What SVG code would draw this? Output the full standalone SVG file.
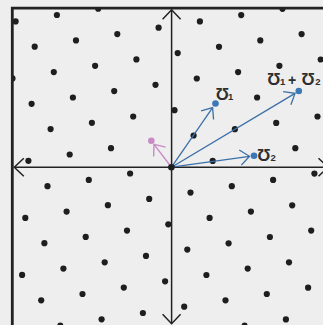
<svg xmlns="http://www.w3.org/2000/svg" width="323" height="325" viewBox="0 0 323 325">
<style>
.d{fill:#1e1e1e}
.ax{fill:none;stroke:#222;stroke-width:1.5}
.bl{fill:none;stroke:#3a6fa8;stroke-width:1.3}
.pk{fill:none;stroke:#c98bc5;stroke-width:1.4}
.lb{font-family:"Liberation Sans","DejaVu Sans",Arial,sans-serif;font-weight:bold;fill:#2e2e2e}
.big{font-size:17px}
.sub{font-size:9.5px}
</style>
<defs>
<clipPath id="inner"><rect x="12" y="8" width="320" height="330"/></clipPath>
<marker id="axh" markerUnits="userSpaceOnUse" orient="auto-start-reverse" overflow="visible" markerWidth="1" markerHeight="1">
<path d="M-9.5,-9 L0,0 L-9.5,9" fill="none" stroke="#222" stroke-width="1.5"/>
</marker>
<marker id="blh" markerUnits="userSpaceOnUse" orient="auto" overflow="visible" markerWidth="1" markerHeight="1">
<path d="M-9.3,-7.6 L0,0 L-9.3,7.6" fill="none" stroke="#3a6fa8" stroke-width="1.3"/>
</marker>
<marker id="pkh" markerUnits="userSpaceOnUse" orient="auto" overflow="visible" markerWidth="1" markerHeight="1">
<path d="M-9.3,-7.6 L0,0 L-9.3,7.6" fill="none" stroke="#c98bc5" stroke-width="1.4"/>
</marker>
</defs>
<rect x="0" y="0" width="323" height="325" fill="#eeeeee"/>
<g id="lattice" clip-path="url(#inner)">
<circle class="d" cx="15.6" cy="21.4" r="3.1"/><circle class="d" cx="56.9" cy="15.0" r="3.1"/><circle class="d" cx="98.2" cy="8.7" r="3.1"/>
<circle class="d" cx="34.7" cy="46.7" r="3.1"/><circle class="d" cx="76.0" cy="40.4" r="3.1"/><circle class="d" cx="117.3" cy="34.1" r="3.1"/><circle class="d" cx="158.6" cy="27.7" r="3.1"/><circle class="d" cx="199.9" cy="21.4" r="3.1"/><circle class="d" cx="241.2" cy="15.1" r="3.1"/><circle class="d" cx="282.5" cy="8.8" r="3.1"/>
<circle class="d" cx="12.5" cy="78.4" r="3.1"/><circle class="d" cx="53.8" cy="72.1" r="3.1"/><circle class="d" cx="95.1" cy="65.8" r="3.1"/><circle class="d" cx="136.4" cy="59.4" r="3.1"/><circle class="d" cx="177.7" cy="53.1" r="3.1"/><circle class="d" cx="219.0" cy="46.8" r="3.1"/><circle class="d" cx="260.3" cy="40.4" r="3.1"/><circle class="d" cx="301.6" cy="34.1" r="3.1"/>
<circle class="d" cx="31.6" cy="103.8" r="3.1"/><circle class="d" cx="72.9" cy="97.5" r="3.1"/><circle class="d" cx="114.2" cy="91.1" r="3.1"/><circle class="d" cx="155.5" cy="84.8" r="3.1"/><circle class="d" cx="196.8" cy="78.5" r="3.1"/><circle class="d" cx="238.1" cy="72.1" r="3.1"/><circle class="d" cx="279.4" cy="65.8" r="3.1"/><circle class="d" cx="320.7" cy="59.5" r="3.1"/>
<circle class="d" cx="50.6" cy="129.1" r="3.1"/><circle class="d" cx="91.9" cy="122.8" r="3.1"/><circle class="d" cx="133.2" cy="116.5" r="3.1"/><circle class="d" cx="174.5" cy="110.2" r="3.1"/><circle class="d" cx="257.1" cy="97.5" r="3.1"/>
<circle class="d" cx="28.4" cy="160.8" r="3.1"/><circle class="d" cx="69.7" cy="154.5" r="3.1"/><circle class="d" cx="111.0" cy="148.2" r="3.1"/><circle class="d" cx="193.6" cy="135.5" r="3.1"/><circle class="d" cx="234.9" cy="129.2" r="3.1"/><circle class="d" cx="276.2" cy="122.9" r="3.1"/><circle class="d" cx="317.5" cy="116.5" r="3.1"/>
<circle class="d" cx="47.5" cy="186.2" r="3.1"/><circle class="d" cx="88.8" cy="179.9" r="3.1"/><circle class="d" cx="130.1" cy="173.5" r="3.1"/><circle class="d" cx="212.7" cy="160.9" r="3.1"/><circle class="d" cx="295.3" cy="148.2" r="3.1"/>
<circle class="d" cx="25.3" cy="217.9" r="3.1"/><circle class="d" cx="66.6" cy="211.6" r="3.1"/><circle class="d" cx="107.9" cy="205.2" r="3.1"/><circle class="d" cx="149.2" cy="198.9" r="3.1"/><circle class="d" cx="190.5" cy="192.6" r="3.1"/><circle class="d" cx="231.8" cy="186.2" r="3.1"/><circle class="d" cx="273.1" cy="179.9" r="3.1"/><circle class="d" cx="314.4" cy="173.6" r="3.1"/>
<circle class="d" cx="44.4" cy="243.2" r="3.1"/><circle class="d" cx="85.7" cy="236.9" r="3.1"/><circle class="d" cx="127.0" cy="230.6" r="3.1"/><circle class="d" cx="168.3" cy="224.3" r="3.1"/><circle class="d" cx="209.6" cy="217.9" r="3.1"/><circle class="d" cx="250.9" cy="211.6" r="3.1"/><circle class="d" cx="292.2" cy="205.3" r="3.1"/>
<circle class="d" cx="22.1" cy="274.9" r="3.1"/><circle class="d" cx="63.4" cy="268.6" r="3.1"/><circle class="d" cx="104.7" cy="262.3" r="3.1"/><circle class="d" cx="146.0" cy="255.9" r="3.1"/><circle class="d" cx="187.3" cy="249.6" r="3.1"/><circle class="d" cx="228.6" cy="243.3" r="3.1"/><circle class="d" cx="269.9" cy="237.0" r="3.1"/><circle class="d" cx="311.2" cy="230.6" r="3.1"/>
<circle class="d" cx="41.2" cy="300.3" r="3.1"/><circle class="d" cx="82.5" cy="294.0" r="3.1"/><circle class="d" cx="123.8" cy="287.6" r="3.1"/><circle class="d" cx="165.1" cy="281.3" r="3.1"/><circle class="d" cx="206.4" cy="275.0" r="3.1"/><circle class="d" cx="247.7" cy="268.6" r="3.1"/><circle class="d" cx="289.0" cy="262.3" r="3.1"/>
<circle class="d" cx="60.3" cy="325.7" r="3.1"/><circle class="d" cx="101.6" cy="319.3" r="3.1"/><circle class="d" cx="142.9" cy="313.0" r="3.1"/><circle class="d" cx="184.2" cy="306.7" r="3.1"/><circle class="d" cx="225.5" cy="300.3" r="3.1"/><circle class="d" cx="266.8" cy="294.0" r="3.1"/><circle class="d" cx="308.1" cy="287.7" r="3.1"/>
<circle class="d" cx="244.6" cy="325.7" r="3.1"/><circle class="d" cx="285.9" cy="319.4" r="3.1"/>
</g>
<g id="axes">
<line class="ax" x1="14.3" y1="167.2" x2="328" y2="167.2" marker-start="url(#axh)" marker-end="url(#axh)"/>
<line class="ax" x1="171.6" y1="9.8" x2="171.6" y2="323.7" marker-start="url(#axh)" marker-end="url(#axh)"/>
</g>
<path id="frame" d="M12.3,330 V8.2 H330" fill="none" stroke="#222" stroke-width="2.8"/>
<g id="connectors">
<line class="bl" x1="171.5" y1="167.2" x2="212.6" y2="107.6" marker-end="url(#blh)"/>
<line class="bl" x1="171.5" y1="167.2" x2="295" y2="93.4" marker-end="url(#blh)"/>
<line class="bl" x1="171.5" y1="167.2" x2="249.5" y2="156.3" marker-end="url(#blh)"/>
<line class="pk" x1="171.5" y1="167.2" x2="154" y2="144.4" marker-end="url(#pkh)"/>
</g>
<g id="origin"><circle class="d" cx="171.4" cy="167.2" r="3.3"/></g>
<g id="node-pink"><circle cx="151.3" cy="140.8" r="3.3" fill="#c98bc5"/></g>
<g id="node-v1">
<circle cx="215.5" cy="103.5" r="3.3" fill="#3c78b5"/>
<text class="lb" y="100"><tspan class="big" x="215.5">Ʊ</tspan><tspan class="sub" x="228">1</tspan></text>
</g>
<g id="node-v2">
<circle cx="254" cy="155.7" r="3.3" fill="#3c78b5"/>
<text class="lb" y="160.7"><tspan class="big" x="257">Ʊ</tspan><tspan class="sub" x="270.5">2</tspan></text>
</g>
<g id="node-v1v2">
<circle cx="298.8" cy="91" r="3.3" fill="#3c78b5"/>
<text class="lb" y="85"><tspan class="big" x="267">Ʊ</tspan><tspan class="sub" x="280">1</tspan><tspan style="font-size:14px" x="288">+</tspan><tspan class="big" x="301.3">Ʊ</tspan><tspan class="sub" x="315.3">2</tspan></text>
</g>
</svg>
